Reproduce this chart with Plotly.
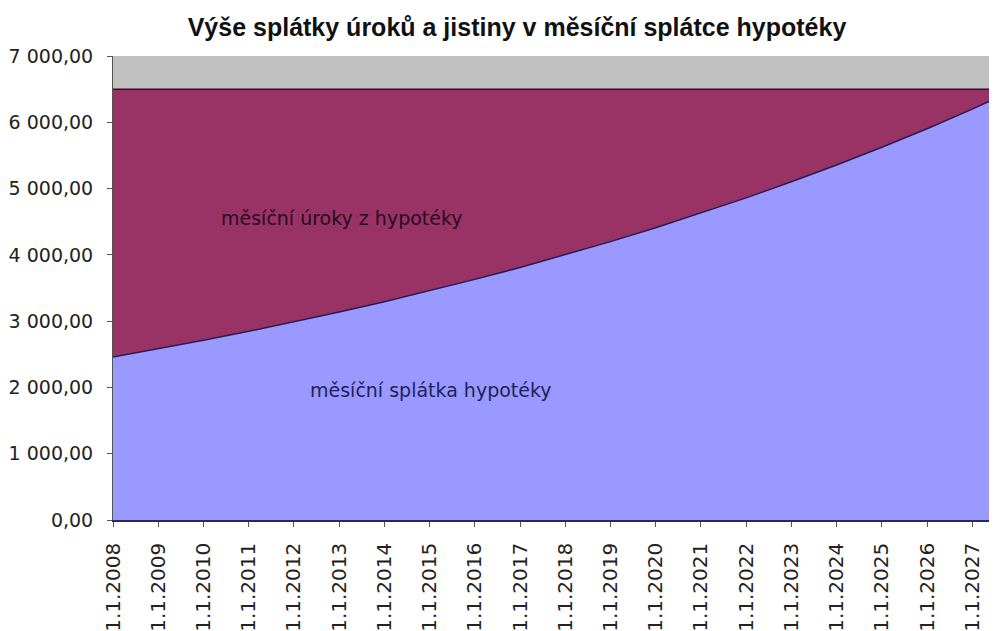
import plotly.graph_objects as go

# Data (values at 1 January of each year, plus last month)
dates = ["2008-01-01", "2009-01-01", "2010-01-01", "2011-01-01", "2012-01-01",
         "2013-01-01", "2014-01-01", "2015-01-01", "2016-01-01", "2017-01-01",
         "2018-01-01", "2019-01-01", "2020-01-01", "2021-01-01", "2022-01-01",
         "2023-01-01", "2024-01-01", "2025-01-01", "2026-01-01", "2027-01-01",
         "2027-07-20"]
splatka = [2460, 2583, 2711, 2846, 2988, 3137, 3293, 3457, 3630, 3810,
           4000, 4200, 4409, 4629, 4860, 5102, 5356, 5623, 5903, 6198, 6370]
uroky = [4040, 3917, 3789, 3654, 3512, 3363, 3207, 3043, 2870, 2690,
         2500, 2300, 2091, 1871, 1640, 1398, 1144, 877, 597, 302, 130]

tick_dates = ["%d-01-01" % y for y in range(2008, 2028)]
tick_text = ["1.1.%d" % y for y in range(2008, 2028)]
y_vals = [0, 1000, 2000, 3000, 4000, 5000, 6000, 7000]
y_text = ["0,00", "1 000,00", "2 000,00", "3 000,00", "4 000,00",
          "5 000,00", "6 000,00", "7 000,00"]

title = "Výše splátky úroků a jistiny v měsíční splátce hypotéky"
label_uroky = "měsíční úroky z hypotéky"
label_splatka = "měsíční splátka hypotéky"

fig = go.Figure()
fig.add_trace(go.Scatter(
    x=dates, y=splatka, stackgroup="one", mode="lines",
    fillcolor="#9999FF", line=dict(color="#2a1a50", width=1.5),
    name=label_splatka, hoverinfo="x+y"))
fig.add_trace(go.Scatter(
    x=dates, y=uroky, stackgroup="one", mode="lines",
    fillcolor="#993366", line=dict(color="#3a0a28", width=1.5),
    name=label_uroky, hoverinfo="x+y"))

fig.add_annotation(x="2013-01-22", y=4555, text=label_uroky, showarrow=False,
                   font=dict(family="DejaVu Sans", size=19, color="#2a0a1e"))
fig.add_annotation(x="2015-01-12", y=1961, text=label_splatka, showarrow=False,
                   font=dict(family="DejaVu Sans", size=19, color="#1f1f5c"))

fig.update_layout(
    width=989, height=623,
    margin=dict(l=105, r=0, t=48, b=111),
    paper_bgcolor="white", plot_bgcolor="#C0C0C0",
    showlegend=False,
    title=dict(text="<b>" + title + "</b>", x=(517 - 8) / 989, xanchor="center",
               xref="container", yref="container",
               y=1 - (27 - 8) / 623, yanchor="middle",
               font=dict(family="Liberation Sans, Arial", size=25, color="#111111")),
    font=dict(family="DejaVu Sans", color="#222222"),
)
fig.update_xaxes(
    type="date", range=["2008-01-01", "2027-07-20"],
    tickmode="array", tickvals=tick_dates, ticktext=tick_text,
    tickangle=-90, tickfont=dict(family="DejaVu Sans", size=20, color="#222222"),
    ticks="outside", ticklen=5, tickcolor="#555555", ticklabelstandoff=8,
    showgrid=False, zeroline=False,
    showline=True, linecolor="#2a2a60", linewidth=1.5)
fig.update_yaxes(
    range=[0, 7000], tickmode="array", tickvals=y_vals, ticktext=y_text,
    tickfont=dict(family="DejaVu Sans", size=19, color="#222222"),
    ticks="outside", ticklen=5, tickcolor="#555555", ticklabelstandoff=10,
    showgrid=False, zeroline=False,
    showline=True, linecolor="#555555", linewidth=1)

fig.write_html("out.html")
